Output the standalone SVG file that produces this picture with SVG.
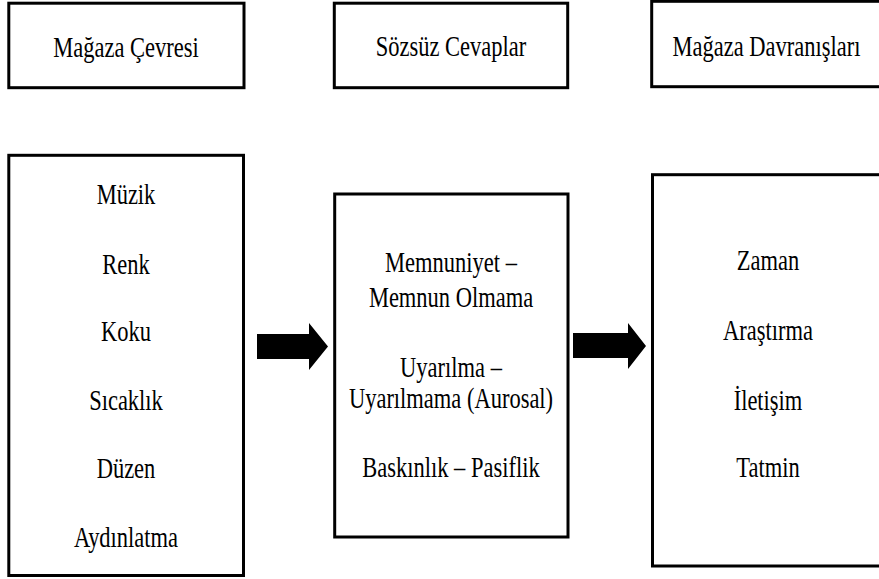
<svg xmlns="http://www.w3.org/2000/svg" width="879" height="579" viewBox="0 0 879 579">
  <style>
    .box { fill: #ffffff; stroke: #000000; stroke-width: 3; }
    .lbl { font-family: 'Liberation Serif', 'DejaVu Serif', serif; font-size: 22.5px; fill: #000000; text-anchor: middle; }
    .arrow { fill: #000000; stroke: none; }
  </style>
  <rect width="879" height="579" fill="#ffffff"/>

  <!-- column headers -->
  <g id="header-magaza-cevresi">
    <rect class="box" x="8.8" y="3.2" width="235.2" height="84.5"/>
    <text class="lbl" font-family="Liberation Serif, serif" transform="translate(126,56.5) scale(1,1.3)">Mağaza Çevresi</text>
  </g>
  <g id="header-sozsuz-cevaplar">
    <rect class="box" x="334.3" y="3.2" width="233.4" height="84.5"/>
    <text class="lbl" font-family="Liberation Serif, serif" transform="translate(451,55.5) scale(1,1.3)">Sözsüz Cevaplar</text>
  </g>
  <g id="header-magaza-davranislari">
    <rect class="box" x="651.7" y="1.3" width="240" height="85.4"/>
    <text class="lbl" font-family="Liberation Serif, serif" transform="translate(766.5,55.5) scale(1,1.3)">Mağaza Davranışları</text>
  </g>

  <!-- store environment factors -->
  <g id="node-cevre" font-family="Liberation Serif, serif">
    <rect class="box" x="8.8" y="155.3" width="234.7" height="420.2"/>
    <text class="lbl" transform="translate(126,204) scale(1,1.3)">Müzik</text>
    <text class="lbl" transform="translate(126,274) scale(1,1.3)">Renk</text>
    <text class="lbl" transform="translate(126,341) scale(1,1.3)">Koku</text>
    <text class="lbl" transform="translate(126,410) scale(1,1.3)">Sıcaklık</text>
    <text class="lbl" transform="translate(126,478) scale(1,1.3)">Düzen</text>
    <text class="lbl" transform="translate(126,547) scale(1,1.3)">Aydınlatma</text>
  </g>

  <!-- emotional responses -->
  <g id="node-cevaplar">
    <rect class="box" x="334.7" y="194" width="233.3" height="343"/>
    <text class="lbl" transform="translate(451,272) scale(1,1.3)">Memnuniyet –</text>
    <text class="lbl" transform="translate(451,306.5) scale(1,1.3)">Memnun Olmama</text>
    <text class="lbl" transform="translate(451,376.5) scale(1,1.3)">Uyarılma –</text>
    <text class="lbl" transform="translate(451,408) scale(1,1.3)">Uyarılmama (Aurosal)</text>
    <text class="lbl" transform="translate(451,476.5) scale(1,1.3)">Baskınlık – Pasiflik</text>
  </g>

  <!-- store behaviours -->
  <g id="node-davranislar">
    <rect class="box" x="652.5" y="174.7" width="240" height="391.3"/>
    <text class="lbl" transform="translate(768,270) scale(1,1.3)">Zaman</text>
    <text class="lbl" transform="translate(768,340) scale(1,1.3)">Araştırma</text>
    <text class="lbl" transform="translate(768,410) scale(1,1.3)">İletişim</text>
    <text class="lbl" transform="translate(768,477) scale(1,1.3)">Tatmin</text>
  </g>

  <!-- block arrows between stages -->
  <g id="connectors">
    <path class="arrow" d="M257,334 H309 V323 L328,346.5 L309,370 V359 H257 Z"/>
    <path class="arrow" d="M573,333 H628 V323 L646,346 L628,369 V358 H573 Z"/>
  </g>
</svg>
